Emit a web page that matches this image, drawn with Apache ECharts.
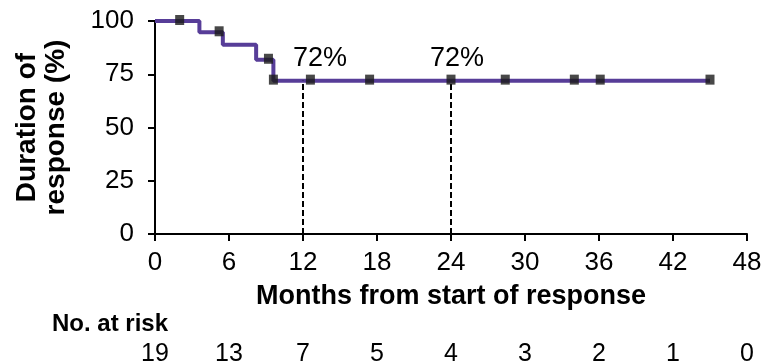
<!DOCTYPE html>
<html>
<head>
<meta charset="utf-8">
<script src="https://cdn.jsdelivr.net/npm/echarts@6/dist/echarts.min.js"></script>
<style>
  html, body { margin: 0; padding: 0; background: #fff; }
  #chart { width: 765px; height: 362px; }
</style>
</head>
<body>
<div id="chart"></div>
<script>
// Kaplan-Meier duration of response: event times (months) and survival (%)
var kmMonths = [0, 3.6, 5.5, 8.2, 9.6, 45.0];
var kmSurvival = [100, 94.7, 88.8, 81.8, 72, 72];

// Censored observations (months, survival %)
var censorMonths = [2.0, 5.2, 9.2, 9.6, 12.6, 17.4, 24.0, 28.4, 34.0, 36.1, 45.0];
var censorSurvival = [100, 94.7, 81.8, 72, 72, 72, 72, 72, 72, 72, 72];

// Landmark estimates
var landmarkMonths = [12, 24];
var landmarkSurvival = [72, 72];

// Axis ticks and number at risk
var xTicks = [0, 6, 12, 18, 24, 30, 36, 42, 48];
var yTicks = [0, 25, 50, 75, 100];
var atRisk = [19, 13, 7, 5, 4, 3, 2, 1, 0];

var FONT = '"Liberation Sans", Arial, sans-serif';

var kmData = kmMonths.map(function (m, i) { return [m, kmSurvival[i]]; });
var censorData = censorMonths.map(function (m, i) { return [m, censorSurvival[i]]; });
var landmarkLines = landmarkMonths.map(function (m, i) {
  return [{ coord: [m, 0] }, { coord: [m, landmarkSurvival[i]] }];
});
var landmarkOffsets = [[17, 0], [6, 0]];
var landmarkData = landmarkMonths.map(function (m, i) {
  return {
    value: [m, landmarkSurvival[i]],
    label: { offset: landmarkOffsets[i] }
  };
});

var chart = echarts.init(document.getElementById('chart'), null, { renderer: 'canvas' });

chart.setOption({
  animation: false,
  backgroundColor: '#ffffff',
  grid: { left: 155, right: 18, top: 21, bottom: 128, containLabel: false, outerBoundsMode: 'none' },
  xAxis: [
    {
      type: 'value',
      min: xTicks[0],
      max: xTicks[xTicks.length - 1],
      interval: 6,
      splitLine: { show: false },
      axisLine: { onZero: false, lineStyle: { color: '#000', width: 2 } },
      axisTick: { show: true, length: 7, lineStyle: { color: '#000', width: 2 } },
      axisLabel: { color: '#000', fontSize: 26, fontFamily: FONT, margin: 16 },
      name: 'Months from start of response',
      nameLocation: 'middle',
      nameGap: 49,
      nameTextStyle: { color: '#000', fontSize: 27, fontWeight: 'bold', fontFamily: FONT }
    },
    {
      type: 'value',
      position: 'bottom',
      offset: 100,
      min: xTicks[0],
      max: xTicks[xTicks.length - 1],
      interval: 6,
      splitLine: { show: false },
      axisLine: { show: false },
      axisTick: { show: false },
      axisLabel: {
        color: '#000', fontSize: 25, fontFamily: FONT, margin: 8,
        formatter: function (v) {
          var idx = xTicks.indexOf(v);
          return idx >= 0 ? String(atRisk[idx]) : '';
        }
      }
    }
  ],
  yAxis: {
    type: 'value',
    min: yTicks[0],
    max: yTicks[yTicks.length - 1],
    interval: 25,
    splitLine: { show: false },
    axisLine: { show: true, lineStyle: { color: '#000', width: 2 } },
    axisTick: { show: true, length: 7, lineStyle: { color: '#000', width: 2 } },
    axisLabel: { color: '#000', fontSize: 26, fontFamily: FONT, margin: 21 },
    name: 'Duration of\nresponse (%)',
    nameLocation: 'middle',
    nameRotate: 90,
    nameGap: 84,
    nameTextStyle: { color: '#000', fontSize: 28, fontWeight: 'bold', fontFamily: FONT, lineHeight: 29 }
  },
  graphic: [
    {
      type: 'text',
      left: 52,
      top: 312,
      style: { text: 'No. at risk', fill: '#000', font: 'bold 24px ' + FONT }
    }
  ],
  series: [
    {
      name: 'Duration of response',
      type: 'line',
      step: 'end',
      data: kmData,
      symbol: 'none',
      lineStyle: { color: '#573d98', width: 4 },
      z: 3,
      markLine: {
        silent: true,
        symbol: ['none', 'none'],
        label: { show: false },
        lineStyle: { color: '#000', width: 2, type: [6, 3] },
        data: landmarkLines
      }
    },
    {
      name: 'Censored',
      type: 'scatter',
      data: censorData,
      symbol: 'rect',
      symbolSize: [9, 10],
      symbolOffset: [0, -1],
      itemStyle: { color: '#1a1a1a' },
      z: 5
    },
    {
      name: 'Landmark',
      type: 'scatter',
      data: landmarkData,
      symbol: 'circle',
      symbolSize: 0.01,
      itemStyle: { color: '#000' },
      label: {
        show: true,
        position: 'top',
        distance: 9,
        color: '#000',
        opacity: 1,
        fontSize: 27,
        fontFamily: FONT,
        formatter: function (p) { return p.value[1] + '%'; }
      },
      z: 6
    }
  ]
});
</script>
</body>
</html>
